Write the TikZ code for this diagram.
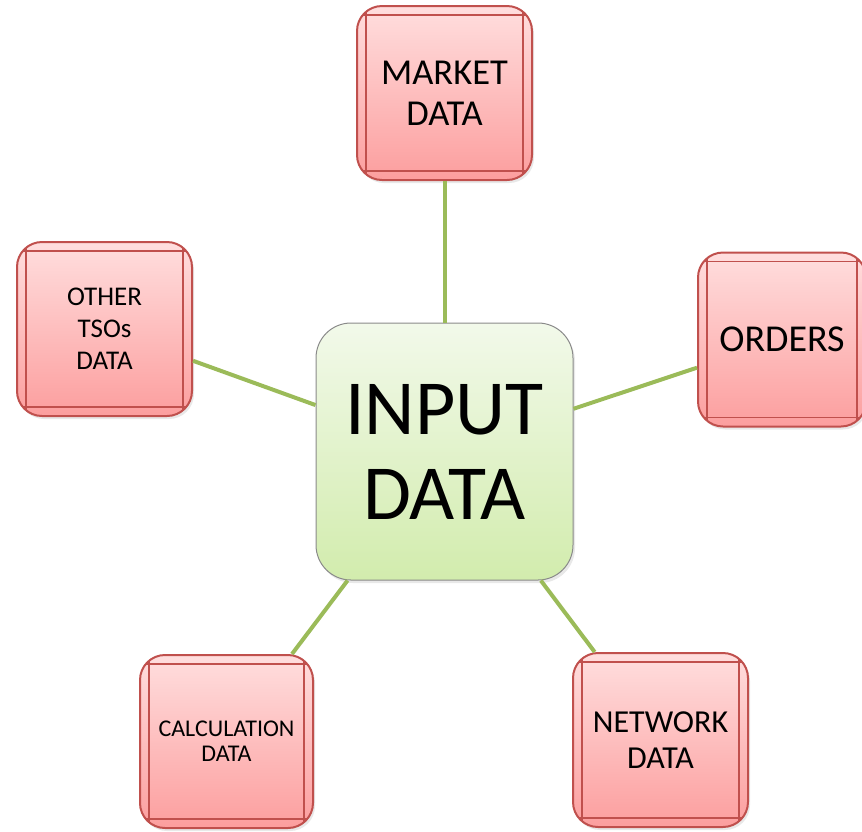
\documentclass[tikz,border=0pt]{standalone}
\usepackage{fontspec}
\setmainfont{Carlito}
\usepackage{tikz}
\usetikzlibrary{shadows}
\definecolor{boxred}{HTML}{C0504D}
\definecolor{redtop}{HTML}{FFDEDE}
\definecolor{redbot}{HTML}{FC9E9E}
\definecolor{greentop}{HTML}{F2F9EA}
\definecolor{greenbot}{HTML}{D2ECAD}
\definecolor{linkgreen}{HTML}{9BBB59}
\definecolor{coregray}{HTML}{8A8A8A}

\begin{document}
\begin{tikzpicture}[
    x=1pt,
    y=-1pt,
    databox/.style={rectangle, rounded corners=25pt, draw=boxred, line width=2pt,
      top color=redtop, bottom color=redbot, minimum width=175pt, minimum height=174pt,
      inner sep=0pt, align=center,
      drop shadow={opacity=0.18, shadow xshift=2pt, shadow yshift=-3pt},
      path picture={
        \draw[boxred, line width=1.5pt]
          ([xshift=9pt]path picture bounding box.north west) -- ([xshift=9pt]path picture bounding box.south west)
          ([xshift=-9pt]path picture bounding box.north east) -- ([xshift=-9pt]path picture bounding box.south east)
          ([yshift=-9pt]path picture bounding box.north west) -- ([yshift=-9pt]path picture bounding box.north east)
          ([yshift=9pt]path picture bounding box.south west) -- ([yshift=9pt]path picture bounding box.south east);
      }},
    core/.style={rectangle, rounded corners=35pt, draw=coregray, line width=1pt,
      top color=greentop, bottom color=greenbot, minimum width=257pt, minimum height=257pt,
      inner sep=0pt, align=center,
      drop shadow={opacity=0.18, shadow xshift=2pt, shadow yshift=-3pt}},
    link/.style={draw=linkgreen, line width=4pt}
  ]
    \useasboundingbox (0,0) rectangle (862,831);

    \node[core, font=\fontsize{78}{85}\selectfont] (input) at (444.5,451.5) {INPUT\\DATA};
    \node[databox, font=\fontsize{36.5}{41}\selectfont] (market) at (444.5,93) {MARKET\\DATA};
    \node[databox, minimum width=168pt, font=\fontsize{38}{40}\selectfont] (orders) at (782,339.5) {ORDERS};
    \node[databox, font=\fontsize{27}{32}\selectfont] (others) at (104.5,329) {OTHER\\TSOs\\DATA};
    \node[databox, minimum width=173pt, minimum height=173pt, font=\fontsize{24}{25}\selectfont] (calc) at (226.5,741.5) {CALCULATION\\DATA};
    \node[databox, font=\fontsize{32}{36}\selectfont] (network) at (660.5,740) {NETWORK\\DATA};

    \draw[link] (input) -- (market);
    \draw[link] (input) -- (orders);
    \draw[link] (input) -- (others);
    \draw[link] (input) -- (calc);
    \draw[link] (input) -- (network);
  \end{tikzpicture}
\end{document}
